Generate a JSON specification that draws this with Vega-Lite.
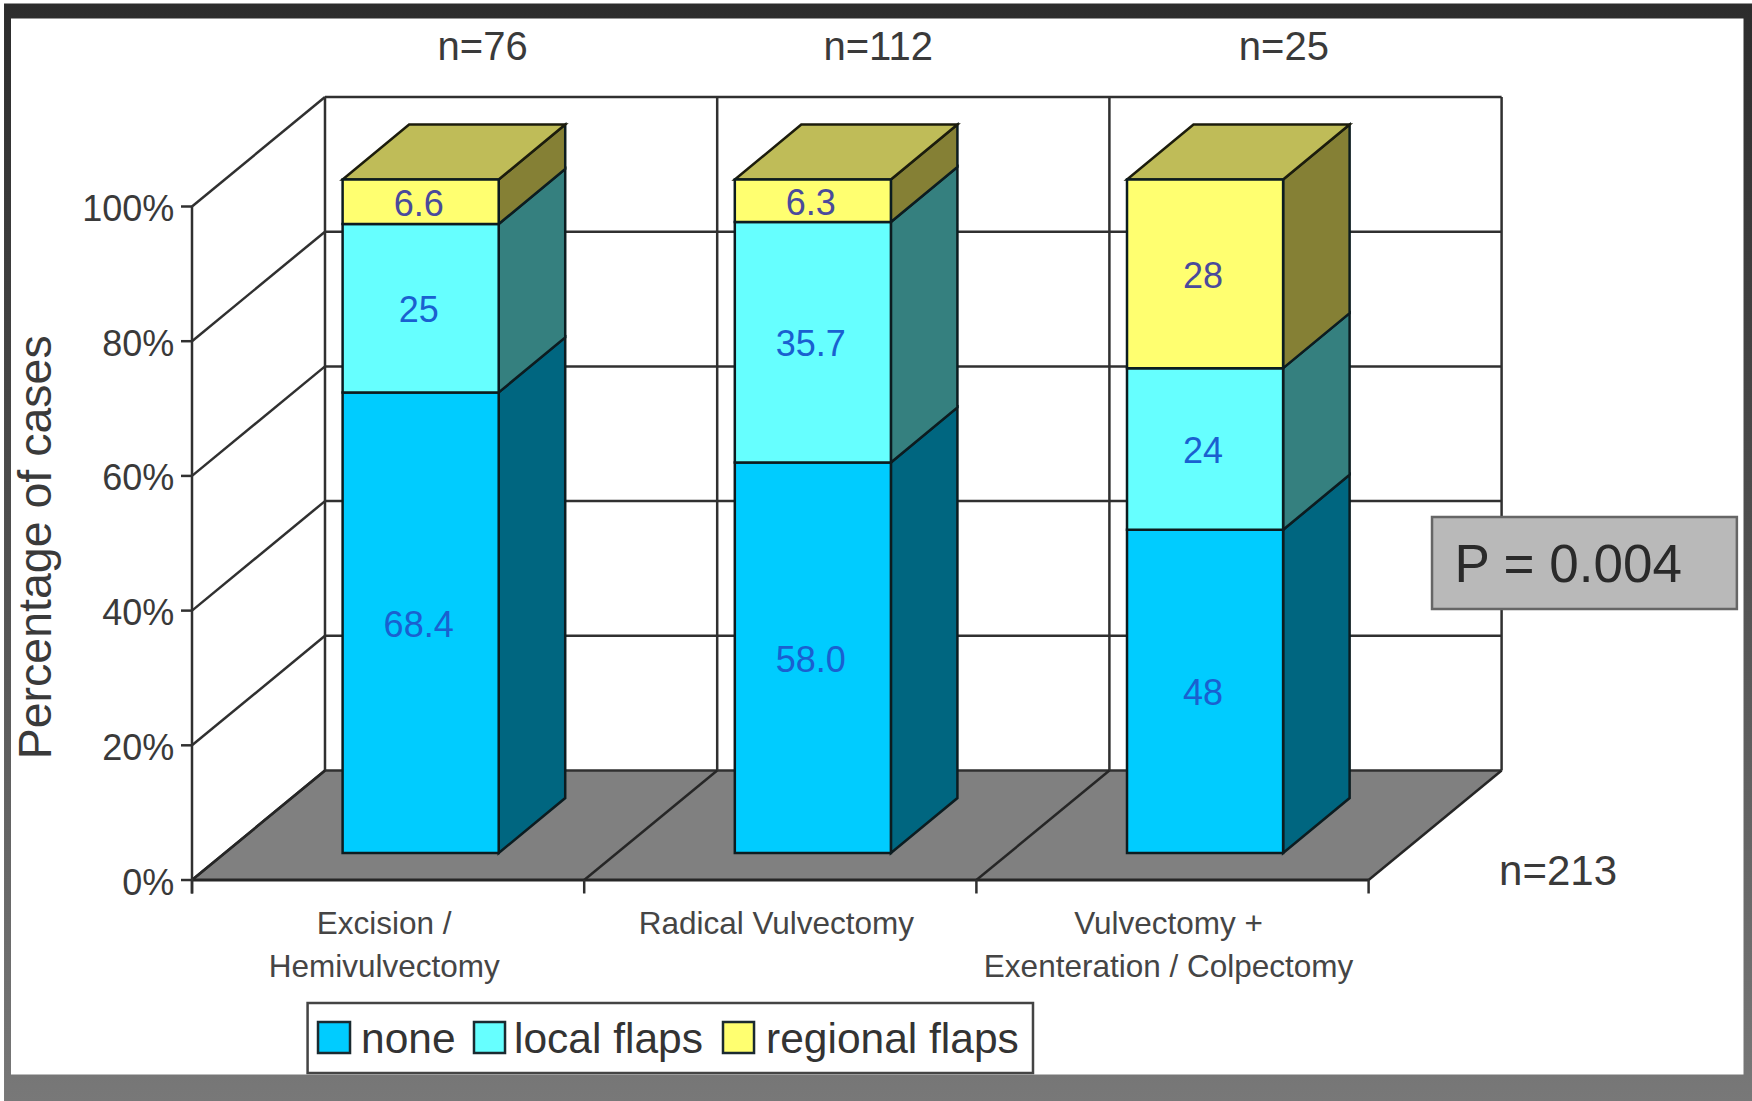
{
  "$schema": "https://vega.github.io/schema/vega-lite/v6.json",
  "width": 1752,
  "height": 1101,
  "autosize": {"type": "fit", "contains": "padding"},
  "padding": 0,
  "background": "#ffffff",
  "config": {
    "view": {"stroke": null},
    "axis": {"disable": true},
    "text": {"font": "Liberation Sans"}
  },
  "params": [
    {"name": "wallX", "value": 0.3391},
    {"name": "wallY", "value": 16.26},
    {"name": "barX", "value": 0.1696},
    {"name": "barY", "value": 8.17},
    {"name": "barLift", "value": 4.0}
  ],
  "datasets": {
    "shares": [
      {"method": "Excision / Hemivulvectomy", "flap": "none", "pct": 68.4, "label": "68.4"},
      {"method": "Excision / Hemivulvectomy", "flap": "local flaps", "pct": 25, "label": "25"},
      {"method": "Excision / Hemivulvectomy", "flap": "regional flaps", "pct": 6.6, "label": "6.6"},
      {"method": "Radical Vulvectomy", "flap": "none", "pct": 58.0, "label": "58.0"},
      {"method": "Radical Vulvectomy", "flap": "local flaps", "pct": 35.7, "label": "35.7"},
      {"method": "Radical Vulvectomy", "flap": "regional flaps", "pct": 6.3, "label": "6.3"},
      {"method": "Vulvectomy + Exenteration / Colpectomy", "flap": "none", "pct": 48, "label": "48"},
      {"method": "Vulvectomy + Exenteration / Colpectomy", "flap": "local flaps", "pct": 24, "label": "24"},
      {"method": "Vulvectomy + Exenteration / Colpectomy", "flap": "regional flaps", "pct": 28, "label": "28"}
    ],
    "methods": [
      {"slot": 0, "n": 76, "name": "Excision /|Hemivulvectomy"},
      {"slot": 1, "n": 112, "name": "Radical Vulvectomy"},
      {"slot": 2, "n": 25, "name": "Vulvectomy +|Exenteration / Colpectomy"}
    ],
    "flaps": [{"flap": "none"}, {"flap": "local flaps"}, {"flap": "regional flaps"}],
    "levels": [{"pct": 0}, {"pct": 20}, {"pct": 40}, {"pct": 60}, {"pct": 80}, {"pct": 100}],
    "bounds": [{"edge": 0}, {"edge": 1}, {"edge": 2}, {"edge": 3}],
    "floor": [{"d": 0}, {"d": 1}],
    "notes": [{"text": "P = 0.004"}]
  },
  "layer": [
    {
      "description": "Outer frame, darker at the top",
      "data": {"name": "notes"},
      "mark": {
        "type": "rect",
        "color": {
          "gradient": "linear", "x1": 0, "y1": 0, "x2": 0, "y2": 1,
          "stops": [
            {"offset": 0, "color": "#2c2c2c"},
            {"offset": 0.5, "color": "#505050"},
            {"offset": 1, "color": "#787878"}
          ]
        }
      },
      "encoding": {
        "x": {"datum": -0.4793, "type": "quantitative", "scale": {"domain": [-0.48955, 3.97756], "nice": false, "zero": false}},
        "x2": {"datum": 3.97756},
        "y": {"datum": 130.14, "type": "quantitative", "scale": {"domain": [-32.81, 130.66], "nice": false, "zero": false}},
        "y2": {"datum": -32.81}
      }
    },
    {
      "description": "White chart panel",
      "data": {"name": "notes"},
      "mark": {"type": "rect", "color": "#ffffff"},
      "encoding": {
        "x": {"datum": -0.4615, "type": "quantitative"},
        "x2": {"datum": 3.9559},
        "y": {"datum": 127.92, "type": "quantitative"},
        "y2": {"datum": -28.88}
      }
    },
    {
      "description": "Grey floor of the 3D box",
      "data": {"name": "floor"},
      "transform": [
        {"calculate": "datum.d * wallX", "as": "xa"},
        {"calculate": "3 + datum.d * wallX", "as": "xb"},
        {"calculate": "datum.d * wallY", "as": "yf"}
      ],
      "mark": {"type": "area", "orient": "horizontal", "color": "#808080"},
      "encoding": {
        "y": {"field": "yf", "type": "quantitative", "stack": null},
        "x": {"field": "xa", "type": "quantitative"},
        "x2": {"field": "xb"}
      }
    },
    {
      "description": "Gridlines running along the left wall",
      "data": {"name": "levels"},
      "transform": [
        {"calculate": "[0, 1]", "as": "d"},
        {"flatten": ["d"]},
        {"calculate": "datum.d * wallX", "as": "lx"},
        {"calculate": "datum.pct + datum.d * wallY", "as": "ly"}
      ],
      "mark": {"type": "line", "color": "#303030", "strokeWidth": 2.5},
      "encoding": {
        "x": {"field": "lx", "type": "quantitative"},
        "y": {"field": "ly", "type": "quantitative"},
        "detail": {"field": "pct"}
      }
    },
    {
      "description": "Gridlines running along the back wall",
      "data": {"name": "levels"},
      "transform": [
        {"calculate": "[0, 1]", "as": "d"},
        {"flatten": ["d"]},
        {"calculate": "wallX + datum.d * 3", "as": "lx"},
        {"calculate": "datum.pct + wallY", "as": "ly"}
      ],
      "mark": {"type": "line", "color": "#303030", "strokeWidth": 2.5},
      "encoding": {
        "x": {"field": "lx", "type": "quantitative"},
        "y": {"field": "ly", "type": "quantitative"},
        "detail": {"field": "pct"}
      }
    },
    {
      "description": "Back wall verticals",
      "data": {"name": "bounds"},
      "transform": [
        {"calculate": "[0, 1]", "as": "d"},
        {"flatten": ["d"]},
        {"calculate": "datum.edge + wallX", "as": "lx"},
        {"calculate": "wallY + datum.d * 100", "as": "ly"}
      ],
      "mark": {"type": "line", "color": "#303030", "strokeWidth": 2.5},
      "encoding": {
        "x": {"field": "lx", "type": "quantitative"},
        "y": {"field": "ly", "type": "quantitative"},
        "detail": {"field": "edge"}
      }
    },
    {
      "description": "Floor diagonals between categories",
      "data": {"name": "bounds"},
      "transform": [
        {"calculate": "[0, 1]", "as": "d"},
        {"flatten": ["d"]},
        {"calculate": "datum.edge + datum.d * wallX", "as": "lx"},
        {"calculate": "datum.d * wallY", "as": "ly"}
      ],
      "mark": {"type": "line", "color": "#262626", "strokeWidth": 2.5},
      "encoding": {
        "x": {"field": "lx", "type": "quantitative"},
        "y": {"field": "ly", "type": "quantitative"},
        "detail": {"field": "edge"}
      }
    },
    {
      "description": "Front edge of the floor",
      "data": {"name": "floor"},
      "transform": [
        {"calculate": "datum.d * 3", "as": "lx"},
        {"calculate": "0", "as": "ly"}
      ],
      "mark": {"type": "line", "color": "#262626", "strokeWidth": 3},
      "encoding": {
        "x": {"field": "lx", "type": "quantitative"},
        "y": {"field": "ly", "type": "quantitative"}
      }
    },
    {
      "description": "Category tick marks",
      "data": {"name": "bounds"},
      "transform": [
        {"calculate": "[0, 1]", "as": "d"},
        {"flatten": ["d"]},
        {"calculate": "datum.d * -2", "as": "ly"}
      ],
      "mark": {"type": "line", "color": "#303030", "strokeWidth": 2.5},
      "encoding": {
        "x": {"field": "edge", "type": "quantitative"},
        "y": {"field": "ly", "type": "quantitative"},
        "detail": {"field": "edge"}
      }
    },
    {
      "description": "Percentage axis line",
      "data": {"name": "floor"},
      "transform": [
        {"calculate": "0", "as": "lx"},
        {"calculate": "datum.d * 102 - 2", "as": "ly"}
      ],
      "mark": {"type": "line", "color": "#303030", "strokeWidth": 2.5},
      "encoding": {
        "x": {"field": "lx", "type": "quantitative"},
        "y": {"field": "ly", "type": "quantitative"}
      }
    },
    {
      "description": "Percentage axis ticks",
      "data": {"name": "levels"},
      "transform": [
        {"calculate": "[0, 1]", "as": "d"},
        {"flatten": ["d"]},
        {"calculate": "datum.d * -0.028", "as": "lx"}
      ],
      "mark": {"type": "line", "color": "#303030", "strokeWidth": 2.5},
      "encoding": {
        "x": {"field": "lx", "type": "quantitative"},
        "y": {"field": "pct", "type": "quantitative"},
        "detail": {"field": "pct"}
      }
    },
    {
      "description": "Percentage axis labels",
      "data": {"name": "levels"},
      "transform": [{"calculate": "datum.pct + '%'", "as": "tick"}],
      "mark": {"type": "text", "align": "right", "baseline": "middle", "fontSize": 36, "color": "#3a3a3a", "dy": 3.5},
      "encoding": {
        "x": {"datum": -0.045, "type": "quantitative"},
        "y": {"field": "pct", "type": "quantitative"},
        "text": {"field": "tick"}
      }
    },
    {
      "description": "Percentage axis title",
      "data": {"name": "notes"},
      "mark": {"type": "text", "angle": 270, "align": "center", "baseline": "middle", "fontSize": 46.5, "color": "#3a3a3a"},
      "encoding": {
        "x": {"datum": -0.395, "type": "quantitative"},
        "y": {"datum": 49.4, "type": "quantitative"},
        "text": {"value": "Percentage of cases"}
      }
    },
    {
      "description": "Category names below the floor",
      "data": {"name": "methods"},
      "transform": [{"calculate": "datum.slot + 0.49", "as": "cx"}],
      "mark": {"type": "text", "align": "center", "baseline": "top", "fontSize": 31.5, "lineBreak": "|", "lineHeight": 43, "color": "#454545"},
      "encoding": {
        "x": {"field": "cx", "type": "quantitative"},
        "y": {"datum": -4.3, "type": "quantitative"},
        "text": {"field": "name"}
      }
    },
    {
      "description": "Group sizes above the box",
      "data": {"name": "methods"},
      "transform": [
        {"calculate": "[0.741, 1.7496, 2.784][datum.slot]", "as": "cx"},
        {"calculate": "'n=' + datum.n", "as": "size"}
      ],
      "mark": {"type": "text", "align": "center", "baseline": "middle", "fontSize": 40, "color": "#3a3a3a"},
      "encoding": {
        "x": {"field": "cx", "type": "quantitative"},
        "y": {"datum": 123.5, "type": "quantitative"},
        "text": {"field": "size"}
      }
    },
    {
      "description": "Total sample size",
      "data": {"name": "notes"},
      "mark": {"type": "text", "align": "center", "baseline": "middle", "fontSize": 42, "color": "#3a3a3a"},
      "encoding": {
        "x": {"datum": 3.483, "type": "quantitative"},
        "y": {"datum": 1.15, "type": "quantitative"},
        "text": {"value": "n=213"}
      }
    },
    {
      "description": "Side faces of the bars",
      "data": {"name": "shares"},
      "transform": [
        {"calculate": "indexof(['Excision / Hemivulvectomy', 'Radical Vulvectomy', 'Vulvectomy + Exenteration / Colpectomy'], datum.method)", "as": "slot"},
        {"calculate": "indexof(['none', 'local flaps', 'regional flaps'], datum.flap)", "as": "rank"},
        {"stack": "pct", "groupby": ["method"], "sort": [{"field": "rank", "order": "ascending"}], "as": ["y0", "y1"]},
        {"calculate": "['#006680', '#35807f', '#858035'][datum.rank]", "as": "shade"},
        {"calculate": "[0, 1]", "as": "d"},
        {"flatten": ["d"]},
        {"calculate": "datum.slot + 0.782 + datum.d * barX", "as": "sx"},
        {"calculate": "datum.y0 + barLift + datum.d * barY", "as": "sLo"},
        {"calculate": "datum.y1 + barLift + datum.d * barY", "as": "sHi"}
      ],
      "mark": {"type": "area", "stroke": "#0c1c20", "strokeWidth": 2.5},
      "encoding": {
        "x": {"field": "sx", "type": "quantitative"},
        "y": {"field": "sLo", "type": "quantitative", "stack": null},
        "y2": {"field": "sHi"},
        "detail": {"field": "method"},
        "fill": {"field": "shade", "type": "nominal", "scale": null, "legend": null}
      }
    },
    {
      "description": "Top face of each bar",
      "data": {"name": "shares"},
      "transform": [
        {"calculate": "indexof(['Excision / Hemivulvectomy', 'Radical Vulvectomy', 'Vulvectomy + Exenteration / Colpectomy'], datum.method)", "as": "slot"},
        {"calculate": "indexof(['none', 'local flaps', 'regional flaps'], datum.flap)", "as": "rank"},
        {"stack": "pct", "groupby": ["method"], "sort": [{"field": "rank", "order": "ascending"}], "as": ["y0", "y1"]},
        {"filter": "datum.rank === 2"},
        {"calculate": "[0, 1]", "as": "d"},
        {"flatten": ["d"]},
        {"calculate": "datum.slot + 0.384 + datum.d * barX", "as": "ta"},
        {"calculate": "datum.slot + 0.782 + datum.d * barX", "as": "tb"},
        {"calculate": "datum.y1 + barLift + datum.d * barY", "as": "ty"}
      ],
      "mark": {"type": "area", "orient": "horizontal", "color": "#bfbc58", "stroke": "#1c1c0c", "strokeWidth": 2.5},
      "encoding": {
        "y": {"field": "ty", "type": "quantitative", "stack": null},
        "x": {"field": "ta", "type": "quantitative"},
        "x2": {"field": "tb"},
        "detail": {"field": "method"}
      }
    },
    {
      "description": "Front faces of the bars",
      "data": {"name": "shares"},
      "transform": [
        {"calculate": "indexof(['Excision / Hemivulvectomy', 'Radical Vulvectomy', 'Vulvectomy + Exenteration / Colpectomy'], datum.method)", "as": "slot"},
        {"calculate": "indexof(['none', 'local flaps', 'regional flaps'], datum.flap)", "as": "rank"},
        {"stack": "pct", "groupby": ["method"], "sort": [{"field": "rank", "order": "ascending"}], "as": ["y0", "y1"]},
        {"calculate": "datum.slot + 0.384", "as": "xL"},
        {"calculate": "datum.slot + 0.782", "as": "xR"},
        {"calculate": "datum.y0 + barLift", "as": "yLo"},
        {"calculate": "datum.y1 + barLift", "as": "yHi"}
      ],
      "mark": {"type": "rect", "stroke": "#0c1c20", "strokeWidth": 2.5},
      "encoding": {
        "x": {"field": "xL", "type": "quantitative"},
        "x2": {"field": "xR"},
        "y": {"field": "yLo", "type": "quantitative"},
        "y2": {"field": "yHi"},
        "fill": {
          "field": "flap",
          "type": "nominal",
          "scale": {"domain": ["none", "local flaps", "regional flaps"], "range": ["#00ccff", "#66ffff", "#ffff70"]},
          "legend": null
        }
      }
    },
    {
      "description": "Share printed on each segment",
      "data": {"name": "shares"},
      "transform": [
        {"calculate": "indexof(['Excision / Hemivulvectomy', 'Radical Vulvectomy', 'Vulvectomy + Exenteration / Colpectomy'], datum.method)", "as": "slot"},
        {"calculate": "indexof(['none', 'local flaps', 'regional flaps'], datum.flap)", "as": "rank"},
        {"stack": "pct", "groupby": ["method"], "sort": [{"field": "rank", "order": "ascending"}], "as": ["y0", "y1"]},
        {"calculate": "datum.rank === 2 ? '#4a4a9c' : '#1a60d0'", "as": "ink"},
        {"calculate": "datum.slot + 0.583", "as": "cx"},
        {"calculate": "(datum.y0 + datum.y1) / 2 + barLift", "as": "cy"}
      ],
      "mark": {"type": "text", "align": "center", "baseline": "middle", "fontSize": 36, "dx": -2, "dy": 3},
      "encoding": {
        "x": {"field": "cx", "type": "quantitative"},
        "y": {"field": "cy", "type": "quantitative"},
        "text": {"field": "label"},
        "fill": {"field": "ink", "type": "nominal", "scale": null, "legend": null}
      }
    },
    {
      "description": "Flap key: surrounding box",
      "data": {"name": "notes"},
      "mark": {"type": "rect", "color": "#ffffff", "stroke": "#444444", "strokeWidth": 2.5},
      "encoding": {
        "x": {"datum": 0.2947, "type": "quantitative"},
        "x2": {"datum": 2.1443},
        "y": {"datum": -18.26, "type": "quantitative"},
        "y2": {"datum": -28.65}
      }
    },
    {
      "description": "Flap key: colour swatches, sharing the bars' fill scale",
      "data": {"name": "flaps"},
      "transform": [
        {"calculate": "indexof(['none', 'local flaps', 'regional flaps'], datum.flap)", "as": "rank"},
        {"calculate": "[0.3213, 0.719, 1.3539][datum.rank]", "as": "kx"},
        {"calculate": "[0.4029, 0.7981, 1.433][datum.rank]", "as": "kx2"}
      ],
      "mark": {"type": "rect", "stroke": "#1a2a30", "strokeWidth": 2.5},
      "encoding": {
        "x": {"field": "kx", "type": "quantitative"},
        "x2": {"field": "kx2"},
        "y": {"datum": -21.08, "type": "quantitative"},
        "y2": {"datum": -25.69},
        "fill": {"field": "flap", "type": "nominal", "legend": null}
      }
    },
    {
      "description": "Flap key: names",
      "data": {"name": "flaps"},
      "transform": [
        {"calculate": "indexof(['none', 'local flaps', 'regional flaps'], datum.flap)", "as": "rank"},
        {"calculate": "[0.4309, 0.821, 1.4636][datum.rank]", "as": "kx"}
      ],
      "mark": {"type": "text", "align": "left", "baseline": "middle", "fontSize": 42.5, "color": "#333333", "dy": 2},
      "encoding": {
        "x": {"field": "kx", "type": "quantitative"},
        "y": {"datum": -23.46, "type": "quantitative"},
        "text": {"field": "flap"}
      }
    },
    {
      "description": "Significance box",
      "data": {"name": "notes"},
      "mark": {"type": "rect", "color": "#b9b9b9", "stroke": "#666666", "strokeWidth": 2.5},
      "encoding": {
        "x": {"datum": 3.1617, "type": "quantitative"},
        "x2": {"datum": 3.939},
        "y": {"datum": 53.9, "type": "quantitative"},
        "y2": {"datum": 40.24}
      }
    },
    {
      "description": "Significance text",
      "data": {"name": "notes"},
      "mark": {"type": "text", "align": "left", "baseline": "middle", "fontSize": 53, "color": "#2a2a2a"},
      "encoding": {
        "x": {"datum": 3.219, "type": "quantitative"},
        "y": {"datum": 46.6, "type": "quantitative"},
        "text": {"field": "text"}
      }
    }
  ]
}
